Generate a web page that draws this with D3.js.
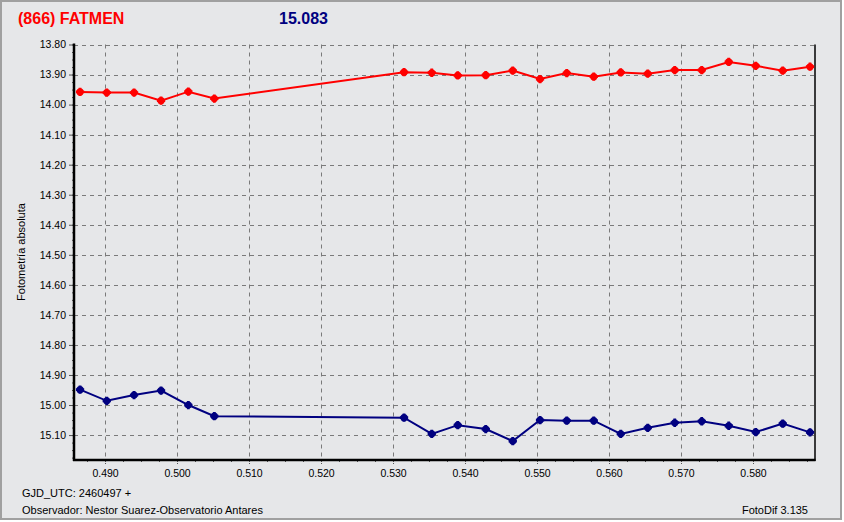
<!DOCTYPE html>
<html>
<head>
<meta charset="utf-8">
<script src="https://cdn.jsdelivr.net/npm/d3@7"></script>
<style>
html,body{margin:0;padding:0;background:#ffffff;}
svg{display:block;}
text{font-family:"Liberation Sans",Arial,sans-serif;}
</style>
</head>
<body>
<svg id="chart" width="844" height="522"></svg>
<script>
// ---- data ----
const jd = [0.48653,0.49024,0.49403,0.49778,0.50157,0.50518,0.53153,0.53538,0.53899,0.54288,0.54663,0.55042,0.55413,0.55788,0.56163,0.56538,0.56913,0.57288,0.57663,0.58038,0.58413,0.58792];
const redMag = [13.958,13.960,13.960,13.987,13.957,13.980,13.892,13.894,13.903,13.902,13.887,13.915,13.895,13.907,13.893,13.897,13.885,13.885,13.858,13.871,13.887,13.874];
const blueMag = [14.949,14.986,14.967,14.952,15.000,15.037,15.042,15.096,15.067,15.080,15.120,15.050,15.052,15.052,15.096,15.076,15.059,15.054,15.069,15.090,15.062,15.091];
const xTicks = [0.490,0.500,0.510,0.520,0.530,0.540,0.550,0.560,0.570,0.580];
const yTicks = [13.80,13.90,14.00,14.10,14.20,14.30,14.40,14.50,14.60,14.70,14.80,14.90,15.00,15.10];
const xDomain = [0.48569,0.58861];
const yDomain = [13.80,15.183];
const titleText = "(866) FATMEN";
const compText = "15.083";
const yLabel = "Fotometría absoluta";
const footer1 = "GJD_UTC: 2460497 +";
const footer2 = "Observador: Nestor Suarez-Observatorio Antares";
const version = "FotoDif 3.135";

// ---- layout ----
const svg = d3.select("#chart");
const L = 74, R = 815, T = 44.5, B = 460;
const x = d3.scaleLinear().domain(xDomain).range([L, R]);
const y = d3.scaleLinear().domain(yDomain).range([T, B]);

// background & frame
svg.append("rect").attr("x",1).attr("y",1).attr("width",840).attr("height",518)
  .attr("fill","#e6e7e9").attr("stroke","#a0a0a0").attr("stroke-width",2);

// grid
const grid = svg.append("g");
grid.selectAll("line.gx").data(xTicks).join("line")
  .attr("x1",d=>Math.round(x(d))+0.5).attr("x2",d=>Math.round(x(d))+0.5)
  .attr("y1",T).attr("y2",B)
  .attr("stroke","#7a7a7a").attr("stroke-dasharray","4,4");
grid.selectAll("line.gy").data(yTicks).join("line")
  .attr("y1",d=>Math.round(y(d))+0.5).attr("y2",d=>Math.round(y(d))+0.5)
  .attr("x1",L).attr("x2",R)
  .attr("stroke","#7a7a7a").attr("stroke-dasharray","4,4");

// axes
const minorX = d3.range(0.4875,0.5886,0.0025);
const minorY = d3.range(13.80,15.18,0.025);
const xAxis = d3.axisBottom(x).tickValues(xTicks).tickFormat(d3.format(".3f")).tickSize(4).tickPadding(6);
const gx = svg.append("g").attr("transform",`translate(0,${B})`).call(xAxis);
gx.select(".domain").remove();
gx.selectAll("text").attr("font-size","10.5px").attr("fill","#000").attr("font-family","'Liberation Sans',Arial,sans-serif");
gx.selectAll(".tick line").attr("stroke","#555").attr("stroke-dasharray","2,1");
const xMinor = d3.axisBottom(x).tickValues(minorX).tickFormat("").tickSize(2);
const gxm = svg.append("g").attr("transform",`translate(0,${B})`).call(xMinor);
gxm.select(".domain").remove();
gxm.selectAll(".tick line").attr("stroke","#555");

const yAxis = d3.axisLeft(y).tickValues(yTicks).tickFormat(d3.format(".2f")).tickSize(5).tickPadding(3);
const gy = svg.append("g").attr("transform",`translate(${L},0)`).call(yAxis);
gy.select(".domain").remove();
gy.selectAll("text").attr("font-size","10.5px").attr("fill","#000").attr("font-family","'Liberation Sans',Arial,sans-serif");
gy.selectAll(".tick line").attr("stroke","#555");
const yMinor = d3.axisLeft(y).tickValues(minorY).tickFormat("").tickSize(2);
const gym = svg.append("g").attr("transform",`translate(${L},0)`).call(yMinor);
gym.select(".domain").remove();
gym.selectAll(".tick line").attr("stroke","#555");

// plot frame
svg.append("line").attr("x1",R).attr("x2",R).attr("y1",T).attr("y2",B+1).attr("stroke","#000").attr("stroke-width",1.5);
svg.append("line").attr("x1",L).attr("x2",L).attr("y1",T-1).attr("y2",B+1).attr("stroke","#000").attr("stroke-width",2.5);
svg.append("line").attr("x1",L-1).attr("x2",R+0.5).attr("y1",B).attr("y2",B).attr("stroke","#000").attr("stroke-width",2.5);

// series
function drawSeries(vals, color){
  const pts = jd.map((d,i)=>[d, vals[i]]);
  const line = d3.line().x(d=>x(d[0])).y(d=>y(d[1]));
  svg.append("path").datum(pts).attr("d",line).attr("fill","none")
    .attr("stroke",color).attr("stroke-width",2);
  const g = svg.append("g");
  g.selectAll("circle").data(pts).join("circle")
    .attr("cx",d=>x(d[0])).attr("cy",d=>y(d[1])).attr("r",3.6).attr("fill",color);
  g.selectAll("path").data(pts).join("path")
    .attr("transform",d=>`translate(${x(d[0])},${y(d[1])})`)
    .attr("d",d3.symbol().type(d3.symbolCross).size(38))
    .attr("fill",color);
}
drawSeries(redMag,"#ff0000");
drawSeries(blueMag,"#000080");

// texts
svg.append("text").attr("x",18).attr("y",24).attr("font-size","16px").attr("font-weight","bold")
  .attr("fill","#ff0000").text(titleText);
svg.append("text").attr("x",279).attr("y",24).attr("font-size","16px").attr("font-weight","bold")
  .attr("fill","#000080").text(compText);
svg.append("text").attr("transform","translate(25,252) rotate(-90)").attr("text-anchor","middle")
  .attr("font-size","11px").attr("fill","#000").text(yLabel);
svg.append("text").attr("x",22).attr("y",497).attr("font-size","11px").attr("fill","#000").attr("font-family","'DejaVu Sans',sans-serif").text(footer1);
svg.append("text").attr("x",22).attr("y",514).attr("font-size","11px").attr("fill","#000").attr("font-family","'DejaVu Sans',sans-serif").text(footer2);
svg.append("text").attr("x",808).attr("y",514).attr("text-anchor","end").attr("font-size","11px").attr("fill","#000").attr("font-family","'DejaVu Sans',sans-serif").text(version);
</script>
</body>
</html>
